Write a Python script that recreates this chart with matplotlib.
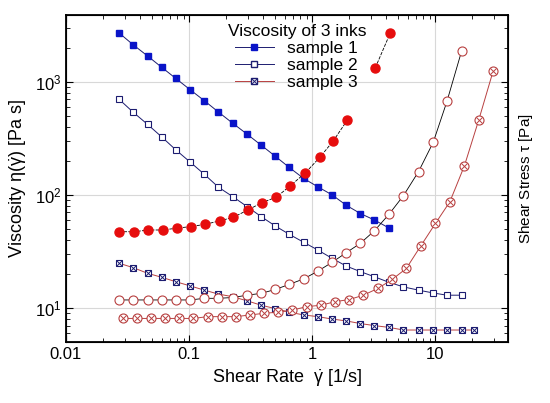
import numpy as np
import matplotlib
matplotlib.use("Agg")
import matplotlib.pyplot as plt
from matplotlib.lines import Line2D

plt.rcParams["font.family"] = ["Liberation Sans", "DejaVu Sans"]
plt.rcParams["mathtext.fontset"] = "custom"
plt.rcParams["mathtext.rm"] = "Liberation Sans"
plt.rcParams["mathtext.it"] = "Liberation Sans"

# shear rate grids [1/s]
rate_a = [0.027, 0.035, 0.046, 0.060, 0.078, 0.102, 0.133, 0.173, 0.226, 0.295,
          0.385, 0.50, 0.65, 0.85, 1.11, 1.45, 1.89, 2.46, 3.2, 4.2,
          5.5, 7.3, 9.6, 12.4, 16.3, 20.6]

# viscosity [Pa s]
visc_s1 = [2700, 2130, 1690, 1340, 1070, 850, 680, 540, 430, 345,
           275, 220, 175, 140, 118, 100, 81, 68.5, 60, 51]
visc_s2 = [700, 540, 420, 325, 250, 195, 152, 117, 96.6, 79,
           64.3, 53.2, 44.9, 38.2, 32.6, 27.5, 23.5, 21, 18.9, 16.9,
           15.4, 14.4, 13.6, 13.0, 13.0]
visc_s3 = [24.9, 22.8, 20.3, 18.7, 17.1, 15.7, 14.4, 13.3, 12.6, 11.6,
           10.6, 9.9, 9.2, 8.7, 8.4, 8.0, 7.7, 7.3, 7.0, 6.75,
           6.4, 6.4, 6.4, 6.4, 6.4, 6.4]

# shear stress [Pa]
rate_t1 = [0.027, 0.0357, 0.0467, 0.061, 0.079, 0.104, 0.135, 0.177, 0.229, 0.30,
           0.39, 0.51, 0.66, 0.88, 1.16, 1.48, 1.93, 2.5, 3.25, 4.3]
tau_s1 = [47.3, 47.3, 49, 49, 50.8, 52.6, 55, 59, 63.5, 73.7,
          85.5, 95.5, 120, 157, 217, 300, 460, np.nan, 1330, 2700]
tau_s2 = [11.8, 11.8, 11.8, 11.8, 11.8, 11.8, 12.2, 12.2, 12.4, 13.0,
          13.5, 14.6, 16.2, 18.1, 21.2, 25.4, 30.9, 37.4, 48.3, 67.5,
          98.6, 161, 292, 670, 1860]
rate_t3 = [0.029, 0.038, 0.049, 0.064, 0.083, 0.108, 0.141, 0.184, 0.240, 0.313,
           0.408, 0.53, 0.69, 0.90, 1.18, 1.53, 2.0, 2.6, 3.4, 4.45,
           5.8, 7.6, 10.0, 13.1, 17.2, 22.5, 29.4]
tau_s3 = [8.1, 8.1, 8.1, 8.1, 8.1, 8.1, 8.4, 8.4, 8.4, 8.7,
          9.0, 9.2, 9.6, 10.3, 10.6, 11.4, 11.9, 13.0, 14.9, 17.9,
          22.4, 35.4, 56, 87, 181, 461, 1240]

BLUE = "#0a14c8"
NAVY = "#1c1c70"
RED = "#e60d0d"
BROWN = "#b84040"

fig = plt.figure(figsize=(5.5, 4.03), dpi=100)
ax = fig.add_axes([0.12, 0.151, 0.804, 0.812])

ms = 5
# viscosity
ax.plot(rate_a[:len(visc_s1)], visc_s1, "-", color=NAVY, lw=0.7, marker="s",
        ms=ms, mfc=BLUE, mec=BLUE)
ax.plot(rate_a[:len(visc_s2)], visc_s2, "-", color=NAVY, lw=0.7, marker="s",
        ms=ms, mfc="white", mec=NAVY, mew=0.8)
ax.plot(rate_a[:len(visc_s3)], visc_s3, "-", color=BROWN, lw=0.7, marker="s",
        ms=ms, mfc="white", mec=NAVY, mew=0.8)
ax.plot(rate_a[:len(visc_s3)], visc_s3, "none", marker="x", ms=ms - 1.2,
        mec=NAVY, mew=0.7)
# shear stress
ax.plot(rate_t1, tau_s1, "--", color="black", lw=0.6, marker="o", ms=6.5,
        mfc=RED, mec=RED, dashes=(4, 1.5))
ax.plot(rate_a[:len(tau_s2)], tau_s2, "-", color="black", lw=0.6, marker="o",
        ms=6.5, mfc="white", mec=BROWN, mew=0.8)
ax.plot(rate_t3, tau_s3, "-", color=BROWN, lw=0.7, marker="o", ms=6.5,
        mfc="white", mec=BROWN, mew=0.8)
ax.plot(rate_t3, tau_s3, "none", marker="x", ms=4.6, mec=BROWN, mew=0.7)

ax.set_xscale("log")
ax.set_yscale("log")
ax.set_xlim(0.01, 39)
ax.set_ylim(5, 3900)
ax.set_xticks([0.01, 0.1, 1, 10])
ax.set_xticklabels(["0.01", "0.1", "1", "10"])
ax.grid(True, which="major", color="#d8d8d8", lw=0.8)
ax.tick_params(which="both", direction="in", top=True, labelsize=12)
ax.tick_params(which="major", length=5)
ax.tick_params(which="minor", length=3)
for s in ax.spines.values():
    s.set_linewidth(1.3)
ax.set_xlabel(r"Shear Rate  $\dot{\gamma}$ [1/s]", fontsize=13)
ax.set_ylabel(r"Viscosity $\eta(\dot{\gamma})$ [Pa s]", fontsize=13)

ax2 = ax.twinx()
ax2.set_yscale("log")
ax2.set_ylim(ax.get_ylim())
ax2.tick_params(which="both", direction="in", labelright=False)
ax2.tick_params(which="major", length=5)
ax2.tick_params(which="minor", length=3)
ax2.set_ylabel(r"Shear Stress $\tau$ [Pa]", fontsize=11, labelpad=6)

h1 = Line2D([], [], color=NAVY, lw=0.7, marker="s", ms=ms, mfc=BLUE, mec=BLUE)
h2 = Line2D([], [], color=NAVY, lw=0.7, marker="s", ms=ms, mfc="white", mec=NAVY)
h3a = Line2D([], [], color=BROWN, lw=0.7, marker="s", ms=ms, mfc="white", mec=NAVY)
h3b = Line2D([], [], ls="none", marker="x", ms=ms - 1.2, mec=NAVY, mew=0.7)
ax.legend([h1, h2, (h3a, h3b)], ["sample 1", "sample 2", "sample 3"],
          title="Viscosity of 3 inks", loc="upper left",
          bbox_to_anchor=(0.33, 1.02), frameon=False, fontsize=12.5,
          title_fontsize=12.5, handlelength=2.2, labelspacing=0.1)

fig.savefig("out.png", dpi=100)
